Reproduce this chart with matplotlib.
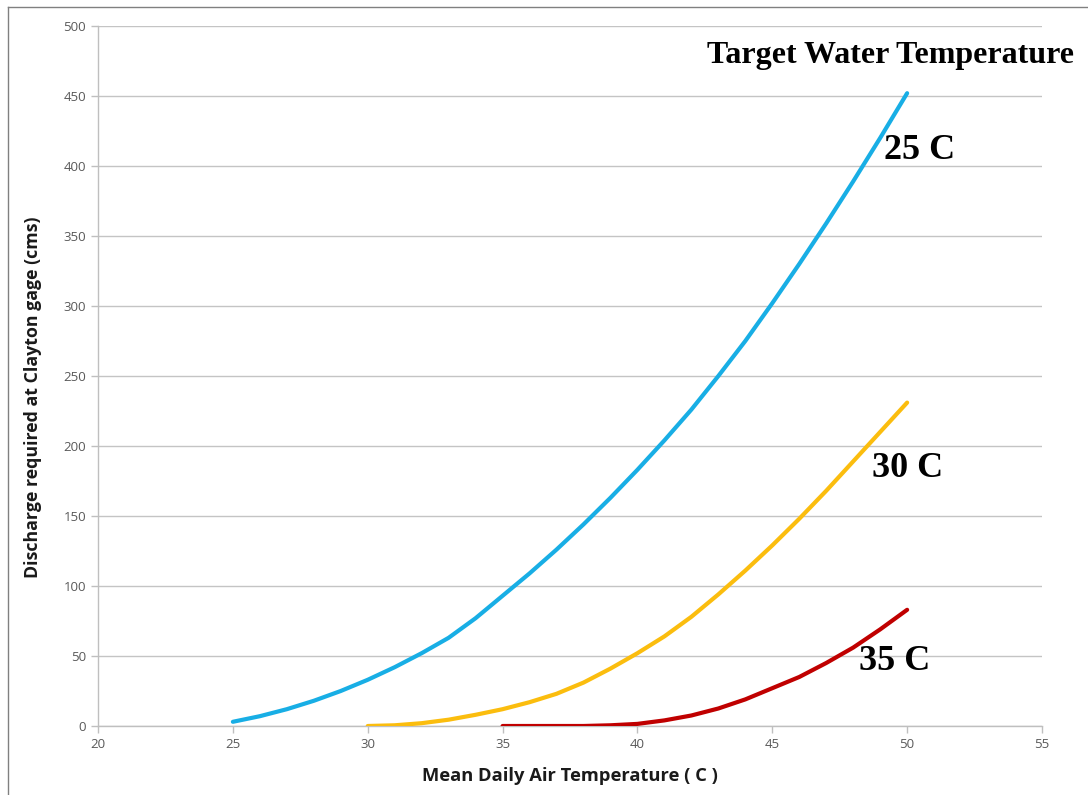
import matplotlib.pyplot as plt
from matplotlib.lines import Line2D

# air temperature (C) and discharge needed (cms) for each target water temperature
air_25 = list(range(25, 51))
q_25 = [3, 7, 12, 18, 25, 33, 42, 52, 63, 77, 93, 109, 126, 144, 163,
        183, 204, 226, 250, 275, 302, 330, 359, 389, 420, 452]

air_30 = list(range(30, 51))
q_30 = [0, 0.5, 2, 4.5, 8, 12, 17, 23, 31, 41, 52, 64, 78, 94, 111,
        129, 148, 168, 189, 210, 231]

air_35 = list(range(35, 51))
q_35 = [0, 0, 0, 0, 0.5, 1.5, 4, 7.5, 12.5, 19, 27, 35, 45, 56, 69, 83]

series = [
    (air_25, q_25, "#18aee5", "25 C", 49.15, 411),
    (air_30, q_30, "#fbbd0e", "30 C", 48.7, 184),
    (air_35, q_35, "#c00000", "35 C", 48.2, 46),
]

x_ticks = [20, 25, 30, 35, 40, 45, 50, 55]
y_ticks = [0, 50, 100, 150, 200, 250, 300, 350, 400, 450, 500]

fig = plt.figure(figsize=(10.88, 7.95), dpi=100)
ax = fig.add_axes([0.0901, 0.0868, 0.8676, 0.8805])

for xs, ys, color, label, lx, ly in series:
    ax.plot(xs, ys, color=color, lw=3, solid_capstyle="round",
            solid_joinstyle="round", zorder=3)
    ax.text(lx, ly, label, fontsize=26, fontweight="bold",
            family="Liberation Serif", ha="left", va="center", zorder=4)

ax.text(56.2, 479, "Target Water Temperature", fontsize=23, fontweight="bold",
        family="Liberation Serif", ha="right", va="center", clip_on=False)

ax.set_xlim(20, 55)
ax.set_ylim(0, 500)
ax.set_xticks(x_ticks)
ax.set_yticks(y_ticks)
ax.grid(axis="y", color="#c4c4c4", lw=1)
ax.set_axisbelow(True)

for side in ["top", "right"]:
    ax.spines[side].set_visible(False)
for side in ["left", "bottom"]:
    ax.spines[side].set_color("#bfbfbf")
    ax.spines[side].set_linewidth(1)

ax.tick_params(colors="#bfbfbf", labelcolor="#595959", length=5, width=1,
               labelsize=9.5)
for lab in ax.get_xticklabels() + ax.get_yticklabels():
    lab.set_family("Open Sans")

ax.set_xlabel("Mean Daily Air Temperature ( C )", fontsize=13.2,
              fontweight="bold", family="Open Sans", color="#1a1a1a")
ax.set_ylabel("Discharge required at Clayton gage (cms)", fontsize=12.8,
              fontweight="bold", family="Open Sans", color="#1a1a1a")
ax.xaxis.set_label_coords(0.5, -0.058)
ax.yaxis.set_label_coords(-0.059, 0.47)

# thin frame on the left and top edges of the figure
fig.add_artist(Line2D([8 / 1088, 8 / 1088], [0, 1 - 7 / 795],
                      transform=fig.transFigure, color="#808080", lw=1))
fig.add_artist(Line2D([8 / 1088, 1], [1 - 7 / 795, 1 - 7 / 795],
                      transform=fig.transFigure, color="#808080", lw=1))

fig.savefig("out.png", dpi=100)
plt.close(fig)
